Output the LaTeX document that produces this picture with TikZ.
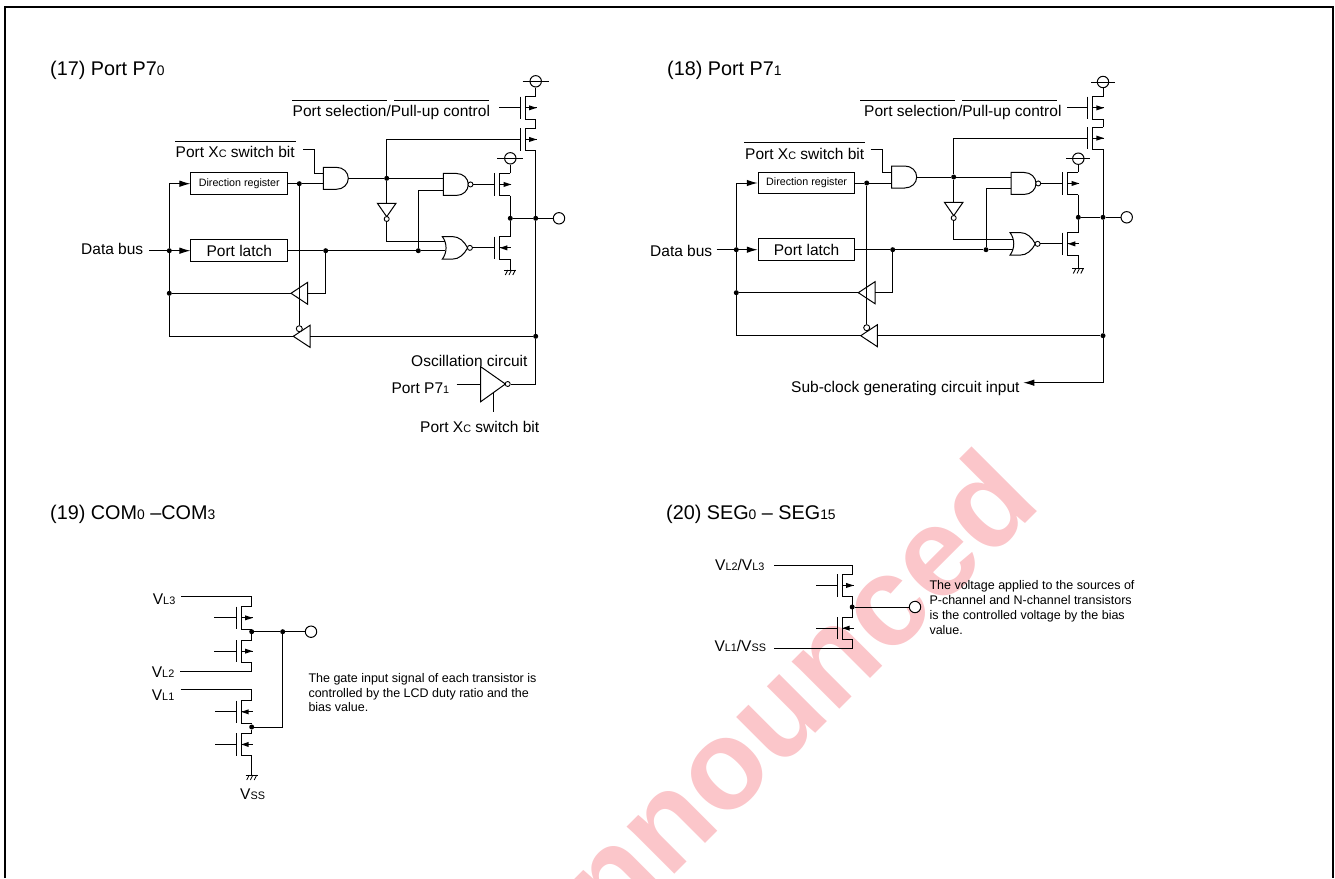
\documentclass[tikz,border=0pt]{standalone}
\usepackage{fontspec}
\setmainfont{Liberation Sans}
\usetikzlibrary{arrows.meta,calc}
\definecolor{wm}{HTML}{FBC6CA}
\newcommand\lo[1]{{\fontsize{\the\dimexpr0.70\fontdimen6\font\relax}{0pt}\selectfont #1}}
\tikzset{
 wire/.style={line width=1pt,line join=miter},
 frameline/.style={line width=2.4pt},
 arr/.style={wire,-{Latex[length=11pt,width=6.5pt]}},
 jun/.style={circle,fill=black,inner sep=0pt,minimum size=5pt},
 term/.style={circle,draw,line width=1pt,fill=white,inner sep=0pt,minimum size=11.4pt},
 bub/.style={circle,draw,line width=.9pt,fill=white,inner sep=0pt,minimum size=5pt},
 regbox/.style={draw,line width=1pt,inner sep=0pt,minimum width=96.7pt,minimum height=21.6pt},
 ttl/.style={anchor=base west,inner sep=0pt,font=\fontsize{19.8}{22}\selectfont},
 lab/.style={anchor=base west,inner sep=0pt,font=\fontsize{15.5}{18}\selectfont},
 para/.style={anchor=north west,inner sep=0pt,align=left,font=\fontsize{12.5}{14.9}\selectfont},
 pfet/.pic={
  \draw[wire] (0,0) -- (-10.7,0) -- (-10.7,22.3) -- (0,22.3);
  \draw[wire] (-15.4,0) -- (-15.4,22.3);
  \draw[wire] (-10.7,11.15) -- (1,11.15);
  \fill (1,11.15) -- (-6.7,8.6) -- (-6.7,13.7) -- cycle;
  \coordinate (-d) at (0,0); \coordinate (-s) at (0,22.3); \coordinate (-g) at (-15.4,11.15);
 },
 nfet/.pic={
  \draw[wire] (0,0) -- (-10.7,0) -- (-10.7,22.3) -- (0,22.3);
  \draw[wire] (-15.4,0) -- (-15.4,22.3);
  \draw[wire] (-10.7,11.15) -- (1,11.15);
  \fill (-10.4,11.15) -- (-3,8.6) -- (-3,13.7) -- cycle;
  \coordinate (-d) at (0,0); \coordinate (-s) at (0,22.3); \coordinate (-g) at (-15.4,11.15);
 },
 gnd/.pic={
  \draw[line width=.9pt] (-6,0) -- (6,0);
  \draw[line width=.8pt] (-2.5,0) -- (-5,5) (1.2,0) -- (-1.3,5) (5,0) -- (2.5,5);
  \coordinate (-t) at (0,0);
 },
 andg/.pic={
  \draw[wire] (0,0) -- (13,0) .. controls (20,0) and (25,5) .. (25,11) .. controls (25,17) and (20,22) .. (13,22) -- (0,22) -- cycle;
  \coordinate (-o) at (25,11);
 },
 nandg/.pic={
  \draw[wire] (0,0) -- (13,0) .. controls (20,0) and (25,5) .. (25,11) .. controls (25,17) and (20,22) .. (13,22) -- (0,22) -- cycle;
  \node[bub] (-b) at (27.2,11) {};
  \coordinate (-o) at (29.7,11);
 },
 norg/.pic={
  \draw[wire] (0,0) -- (10,0) .. controls (17,0) and (22,5) .. (25.3,11.3) .. controls (22,17.6) and (17,22.6) .. (10,22.6) -- (0,22.6) .. controls (5,16) and (5,6.6) .. (0,0) -- cycle;
  \node[bub] (-b) at (27.6,11.3) {};
  \coordinate (-o) at (30.1,11.3);
 },
 buf/.pic={
  \draw[wire] (0,0) -- (16.7,-11) -- (16.7,11) -- cycle;
  \coordinate (-tip) at (0,0); \coordinate (-base) at (16.7,0);
 },
 invd/.pic={
  \draw[wire] (-9.3,0) -- (9.3,0) -- (0,13.4) -- cycle;
  \node[bub] (-b) at (0,15.7) {};
  \coordinate (-in) at (0,0); \coordinate (-out) at (0,18.2);
 },
}
\begin{document}
\begin{tikzpicture}[x=1pt,y=-1pt]
\useasboundingbox (0,0) rectangle (1335,878);
% watermark
\begin{scope}
\clip (0,0) rectangle (1335,878);
\node[anchor=base east,inner sep=0pt,rotate=45,text=wm,font=\fontsize{127}{127}\selectfont\bfseries] (wmark) at (1043,506) {nnounced};
\end{scope}
% frame
\draw[frameline] (4.7,878) -- (4.7,7) -- (1333,7) -- (1333,878);
% titles
\node[ttl] (t17) at (50,75) {(17) Port P7\lo{0}};
\node[ttl] (t18) at (667,75) {(18) Port P7\lo{1}};
\node[ttl] (t19) at (50,519.5) {(19) COM\lo{0} –COM\lo{3}};
\node[ttl] (t20) at (666,519.5) {(20) SEG\lo{0} – SEG\lo{15}};

% ===== panel 17 =====
\node[lab] (aSelT) at (292.5,116.7) {Port selection/Pull-up control};
\draw[wire] (292.3,100.3) coordinate (aO1) -- (386.7,100.3) coordinate (aO2);
\draw[wire] (394,100.3) coordinate (aO3) -- (489,100.3) coordinate (aO4);
\node[lab] (aXcT) at (175.5,157.3) {Port X\lo{C} switch bit};
\draw[wire] (175,141) coordinate (aO5) -- (296,141) coordinate (aO6);
\node[lab] (aBusT) at (81,254) {Data bus};
\node[regbox,font=\fontsize{10.7}{12}\selectfont] (aDir) at (239.3,183.7) {Direction register};
\node[regbox,font=\fontsize{15.5}{18}\selectfont] (aLat) at (239.3,250.7) {Port latch};
\coordinate (aIn) at (149.3,250.7);
\node[jun] (a1) at (169.3,250.7) {};
\node[jun] (a2) at (169.3,293.3) {};
\node[jun] (a3) at (325.7,250.7) {};
\node[jun] (a4) at (418.3,250.7) {};
\node[jun] (a5) at (299.3,183.7) {};
\node[jun] (a6) at (535.7,336.3) {};
\node[jun] (a7) at (535.7,218.3) {};
\node[jun] (a8) at (386.7,178.3) {};
\node[jun] (a9) at (510.3,218.3) {};
\pic (aU) at (291,293.3) {buf};
\pic (aL) at (293.3,336.3) {buf};
\node[bub,minimum size=6pt] (aBub) at (299.3,328.7) {};
\pic (aAnd) at (323.3,167.3) {andg};
\pic (aNand) at (443.3,173.45) {nandg};
\pic (aNor) at (442.3,236.55) {norg};
\pic (aInv) at (386.7,203.3) {invd};
\pic (aTa) at (535.7,96.7) {pfet};
\pic (aTb) at (535.7,128.3) {pfet};
\pic (aTc) at (510.3,173.3) {pfet};
\pic (aTd) at (510.3,236.7) {nfet};
\pic (aG) at (510.3,270) {gnd};
\node[term] (aV1) at (535.7,81.3) {};
\node[term] (aV2) at (510.3,158.3) {};
\node[term] (aOut) at (559,218.3) {};
\draw[wire] (aV1.center) ++(-13,0) -- ++(26,0);
\draw[wire] (aV2.center) ++(-13,0) -- ++(26,0);
\draw[wire] (aV1) -- (aTa-d);
\draw[wire] (aTa-s) -- (aTb-d);
\draw[wire] (aV2) -- (aTc-d);
\draw[wire] (aTc-s) -- (a9) -- (aTd-d);
\draw[wire] (aTd-s) -- (aG-t);
\draw[wire] (aTa-g) -- ++(-21,0);
\draw[arr] (aIn) -- (aLat.west);
\draw[arr] (a1) |- (aDir.west);
\draw[wire] (a1) -- (a2);
\draw[wire] (a2) -- (aU-tip);
\draw[wire] (a2) |- (aL-tip);
\draw[wire] (aLat.east) -- (a3) -- (a4) -- (445.4,250.7) coordinate (aNorB);
\draw[wire] (a3) |- (aU-base);
\draw[wire] (aDir.east) -- (a5) -- (323.3,183.7) coordinate (aAndB);
\draw[wire] (a5) -- (aBub);
\draw[wire] (a6) -- (aL-base);
\draw[wire] (303.3,149.3) coordinate (aXs) -| (314.3,173.3) -- (323.3,173.3) coordinate (aAndA);
\draw[wire] (aAnd-o) -- (a8) -- (443.3,178.3) coordinate (aNandA);
\draw[wire] (a8) |- (aTb-g);
\draw[wire] (a8) -- (aInv-in);
\draw[wire] (aInv-out) |- (445.4,241.7) coordinate (aNorA);
\draw[wire] (a4) |- (443.3,190) coordinate (aNandB);
\draw[wire] (aNand-o) -- (aNand-o -| aTc-g);
\draw[wire] (aNor-o) -- (aNor-o -| aTd-g);
\draw[wire] (a9) -- (a7) -- (aOut);
\draw[wire] (aTb-s) -- (a7) -- (a6);
% oscillation
\node[lab] (aOscT) at (411,366) {Oscillation circuit};
\node[lab] (aP71) at (391.3,393.3) {Port P7\lo{1}};
\node[lab] (aXc2) at (420,432.7) {Port X\lo{C} switch bit};
\draw[wire] (480.7,366.7) coordinate (aOtop) -- (505.4,384) coordinate (aOtip) -- (480.7,401.7) coordinate (aObot) -- cycle;
\node[bub] (aOb) at (507.7,384) {};
\draw[wire] (a6) |- (aOb);
\draw[wire] (456.7,384) coordinate (aOin) -- (480.7,384) coordinate (aOinE);
\draw[wire] (493.3,393) coordinate (aOen) -- (493.3,411.7) coordinate (aOenE);

% ===== panel 18 =====
\node[lab] (bSelT) at (864,116.7) {Port selection/Pull-up control};
\draw[wire] (860,100.2) coordinate (bO1) -- (955,100.2) coordinate (bO2);
\draw[wire] (962.3,100.2) coordinate (bO3) -- (1056.7,100.2) coordinate (bO4);
\node[lab] (bXcT) at (745,159) {Port X\lo{C} switch bit};
\draw[wire] (744,142.3) coordinate (bO5) -- (865,142.3) coordinate (bO6);
\node[lab] (bBusT) at (650,256.7) {Data bus};
\node[regbox,font=\fontsize{10.7}{12}\selectfont] (bDir) at (806.6,183) {Direction register};
\node[regbox,font=\fontsize{15.5}{18}\selectfont] (bLat) at (806.6,249.7) {Port latch};
\coordinate (bIn) at (716.7,249.7);
\node[jun] (b1) at (736.3,249.7) {};
\node[jun] (b2) at (736.3,292.7) {};
\node[jun] (b3) at (892.7,249.7) {};
\node[jun] (b4) at (986,249.7) {};
\node[jun] (b5) at (866.7,183) {};
\node[jun] (b6) at (1103,335.7) {};
\node[jun] (b7) at (1103,217.3) {};
\node[jun] (b8) at (953.7,177) {};
\node[jun] (b9) at (1078.3,217.3) {};
\pic (bU) at (858.3,292.7) {buf};
\pic (bL) at (860.7,335.7) {buf};
\node[bub,minimum size=6pt] (bBub) at (866.7,327.7) {};
\pic (bAnd) at (891.7,166) {andg};
\pic (bNand) at (1011,172.45) {nandg};
\pic (bNor) at (1010,232.55) {norg};
\pic (bInv) at (953.7,202.3) {invd};
\pic (bTa) at (1103,96.7) {pfet};
\pic (bTb) at (1103,127) {pfet};
\pic (bTc) at (1078.3,172.3) {pfet};
\pic (bTd) at (1078.3,232.7) {nfet};
\pic (bG) at (1078.3,268.5) {gnd};
\node[term] (bV1) at (1103,82) {};
\node[term] (bV2) at (1078.3,158.7) {};
\node[term] (bOut) at (1126.7,217.3) {};
\draw[wire] (bV1.center) ++(-12,0) -- ++(24,0);
\draw[wire] (bV2.center) ++(-12,0) -- ++(24,0);
\draw[wire] (bV1) -- (bTa-d);
\draw[wire] (bTa-s) -- (bTb-d);
\draw[wire] (bV2) -- (bTc-d);
\draw[wire] (bTc-s) -- (b9) -- (bTd-d);
\draw[wire] (bTd-s) -- (bG-t);
\draw[wire] (bTa-g) -- ++(-21,0);
\draw[arr] (bIn) -- (bLat.west);
\draw[arr] (b1) |- (bDir.west);
\draw[wire] (b1) -- (b2);
\draw[wire] (b2) -- (bU-tip);
\draw[wire] (b2) |- (bL-tip);
\draw[wire] (bLat.east) -- (b3) -- (b4) -- (1013,249.7) coordinate (bNorB);
\draw[wire] (b3) |- (bU-base);
\draw[wire] (bDir.east) -- (b5) -- (891.7,183) coordinate (bAndB);
\draw[wire] (b5) -- (bBub);
\draw[wire] (b6) -- (bL-base);
\draw[wire] (870.7,149) coordinate (bXs) -| (882.3,172.3) -- (891.7,172.3) coordinate (bAndA);
\draw[wire] (bAnd-o) -- (b8) -- (1011,177) coordinate (bNandA);
\draw[wire] (b8) |- (bTb-g);
\draw[wire] (b8) -- (bInv-in);
\draw[wire] (bInv-out) |- (1013,239) coordinate (bNorA);
\draw[wire] (b4) |- (1011,188) coordinate (bNandB);
\draw[wire] (bNand-o) -- (bNand-o -| bTc-g);
\draw[wire] (bNor-o) -- (bNor-o -| bTd-g);
\draw[wire] (b9) -- (b7) -- (bOut);
\draw[wire] (bTb-s) -- (b7) -- (b6);
\node[lab] (bSub) at (791,392.7) {Sub-clock generating circuit input};
\coordinate (bSubTip) at (1023.3,382.7);
\draw[arr] (b6) |- (bSubTip);

% ===== panel 19 =====
\node[lab] (cV3t) at (152.7,604.3) {V\lo{L3}};
\node[lab] (cV2t) at (151.7,677.3) {V\lo{L2}};
\node[lab] (cV1t) at (151.7,700.7) {V\lo{L1}};
\node[lab] (cVst) at (240,799) {V\lo{SS}};
\pic (cT1) at (251.7,606.7) {pfet};
\pic (cT2) at (251.7,640) {pfet};
\pic (cT3) at (251.7,700.7) {nfet};
\pic (cT4) at (251.7,733.3) {nfet};
\pic (cG) at (251.7,775) {gnd};
\node[jun] (c1) at (251.7,631.7) {};
\node[jun] (c2) at (282.7,631.7) {};
\node[jun] (c3) at (251.7,727) {};
\node[term] (cOut) at (311,631.7) {};
\draw[wire] (181,596) coordinate (cA) -| (cT1-d);
\draw[wire] (cT1-s) -- (c1) -- (cT2-d);
\draw[wire] (cT2-s) |- (180,671) coordinate (cB);
\draw[wire] (180.7,689.3) coordinate (cC) -| (cT3-d);
\draw[wire] (cT3-s) -- (c3) -- (cT4-d);
\draw[wire] (cT4-s) -- (cG-t);
\draw[wire] (c1) -- (c2) -- (cOut);
\draw[wire] (c2) |- (c3);
\draw[wire] (cT1-g) -- ++(-22.3,0);
\draw[wire] (cT2-g) -- ++(-22.3,0);
\draw[wire] (cT3-g) -- ++(-21.3,0);
\draw[wire] (cT4-g) -- ++(-21.3,0);
\node[para] (cP) at (308.3,672.9) {The gate input signal of each transistor is\\controlled by the LCD duty ratio and the\\bias value.};

% ===== panel 20 =====
\node[lab] (dV3t) at (715,570) {V\lo{L2}/V\lo{L3}};
\node[lab] (dV1t) at (714.3,651.7) {V\lo{L1}/V\lo{SS}};
\pic (dT1) at (852.7,574.3) {pfet};
\pic (dT2) at (852.7,617) {nfet};
\node[jun] (d1) at (852.2,607) {};
\node[term] (dOut) at (915,607) {};
\draw[wire] (774,565.3) coordinate (dA) -| (dT1-d);
\draw[wire] (dT1-s) -- (d1.center |- dT1-s) -- (d1.center |- dT2-d) -- (dT2-d);
\draw[wire] (dT2-s) |- (774,648.3) coordinate (dB);
\draw[wire] (d1) -- (dOut);
\draw[wire] (dT1-g) -- ++(-21.3,0);
\draw[wire] (dT2-g) -- ++(-21.3,0);
\node[para] (dP) at (929.3,580.2) {The voltage applied to the sources of\\P-channel and N-channel transistors\\is the controlled voltage by the bias\\value.};
\end{tikzpicture}
\end{document}
